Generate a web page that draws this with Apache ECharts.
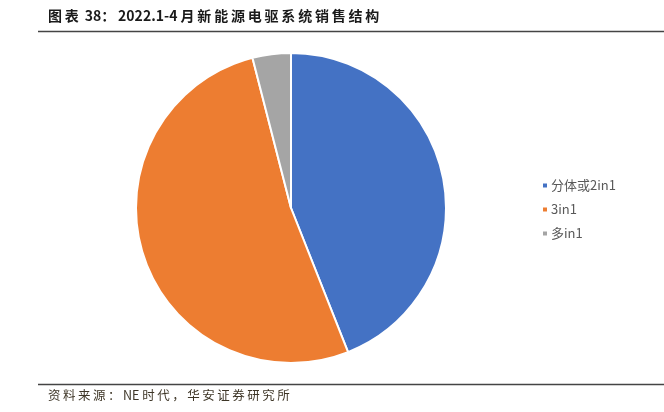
<!DOCTYPE html>
<html><head><meta charset="utf-8">
<script src="https://cdn.jsdelivr.net/npm/echarts@6/dist/echarts.min.js"></script>
<style>html,body{margin:0;padding:0;background:#fff}#c{width:664px;height:412px}</style>
</head><body><div id="c"></div>
<script>
var categories = ['分体或2in1', '3in1', '多in1'];
var values = [44.0, 52.0, 4.0];
var colors = ['#4472C4', '#ED7D31', '#A5A5A5'];
var titleText = '图表 38：2022.1-4 月新能源电驱系统销售结构';
var sourceText = '资料来源：NE 时代，华安证券研究所';

function spaceCJK(s) {
  // add thin spaces after CJK characters to mimic the letter spacing of the original
  return s.replace(/([\u3000-\u9fff\uff00-\uffef])/g, '$1\u2009');
}

var chart = echarts.init(document.getElementById('c'));
chart.setOption({
  animation: false,
  color: colors,
  graphic: [
    {type: 'text', left: 48, top: 9, style: {text: spaceCJK(titleText), font: 'bold 14px "Noto Sans CJK SC"', fill: '#1a1a1a'}},
    {type: 'line', shape: {x1: 38, y1: 31.5, x2: 664, y2: 31.5}, style: {stroke: '#444', lineWidth: 1.3}},
    {type: 'line', shape: {x1: 38, y1: 384.5, x2: 664, y2: 384.5}, style: {stroke: '#444', lineWidth: 1.3}},
    {type: 'text', left: 48, top: 389, style: {text: spaceCJK(sourceText), font: '12.5px "Noto Sans CJK SC"', fill: '#3d3526'}}
  ],
  legend: {
    orient: 'vertical', left: 536, top: 174, itemGap: 11,
    itemWidth: 6, itemHeight: 6, icon: 'rect',
    textStyle: {fontFamily: 'Noto Sans CJK SC', fontSize: 13, color: '#595959', padding: [0,0,0,-2]},
    data: categories
  },
  series: [{
    type: 'pie', center: [291, 208], radius: 155, startAngle: 90, clockwise: true,
    label: {show: false}, labelLine: {show: false},
    itemStyle: {borderColor: '#fff', borderWidth: 2},
    data: categories.map(function(c, i){ return {name: c, value: values[i]}; })
  }]
});
</script></body></html>
